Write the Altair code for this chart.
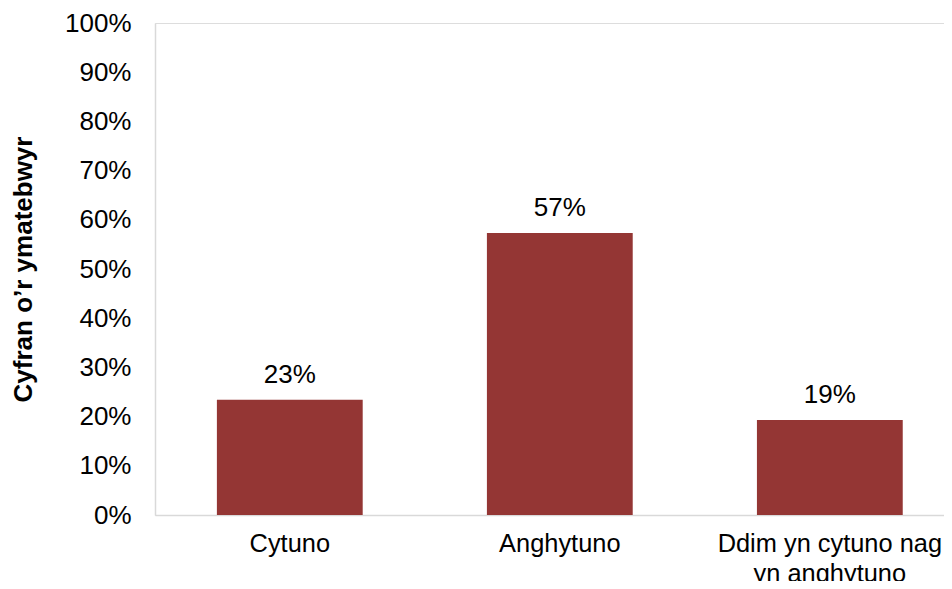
import altair as alt
import pandas as pd

categories = ["Cytuno", "Anghytuno", "Ddim yn cytuno nag yn anghytuno"]
values = [0.234, 0.573, 0.193]
y_ticks = [i / 10 for i in range(11)]

df = pd.DataFrame({"cat": categories, "val": values})

FONT = "Liberation Sans"
COLOR = "#943634"

x = alt.X(
    "cat:N",
    sort=categories,
    scale=alt.Scale(paddingInner=0.46, paddingOuter=0.191, align=0.6),
    axis=alt.Axis(
        title=None,
        labelAngle=0,
        labelFont=FONT,
        labelFontSize=25.4,
        labelColor="#000000",
        labelPadding=16,
        labelLimit=0,
        labelLineHeight=30,
        labelExpr="datum.label == 'Ddim yn cytuno nag yn anghytuno' ? ['Ddim yn cytuno nag', 'yn anghytuno'] : datum.label",
        ticks=False,
        domainColor="#d9d9d9",
        domainWidth=1.5,
        grid=False,
    ),
)

y = alt.Y(
    "val:Q",
    scale=alt.Scale(domain=[0, 1]),
    axis=alt.Axis(
        title="Cyfran o’r ymatebwyr",
        titleFont=FONT,
        titleFontSize=26,
        titleFontWeight="bold",
        titleColor="#000000",
        titlePadding=28,
        values=y_ticks,
        format=".0%",
        labelFont=FONT,
        labelFontSize=26,
        labelColor="#000000",
        labelPadding=24,
        ticks=False,
        domainColor="#d9d9d9",
        domainWidth=1.5,
        grid=False,
    ),
)

bars = alt.Chart(df).mark_bar(color=COLOR).encode(x=x, y=y)

labels = alt.Chart(df).mark_text(
    font=FONT, fontSize=26, color="#000000", baseline="bottom", dy=-12
).encode(
    x=alt.X("cat:N", sort=categories),
    y=alt.Y("val:Q"),
    text=alt.Text("val:Q", format=".0%"),
)

chart = (
    alt.layer(bars, labels)
    .properties(
        width=789,
        height=492,
        autosize=alt.AutoSizeParams(type="none"),
        padding={"left": 147, "top": 15, "right": 0, "bottom": 66},
    )
    .configure_view(stroke=None)
    .configure(background="white")
)

chart.save("out.html", embed_options={"renderer": "svg", "actions": False})
